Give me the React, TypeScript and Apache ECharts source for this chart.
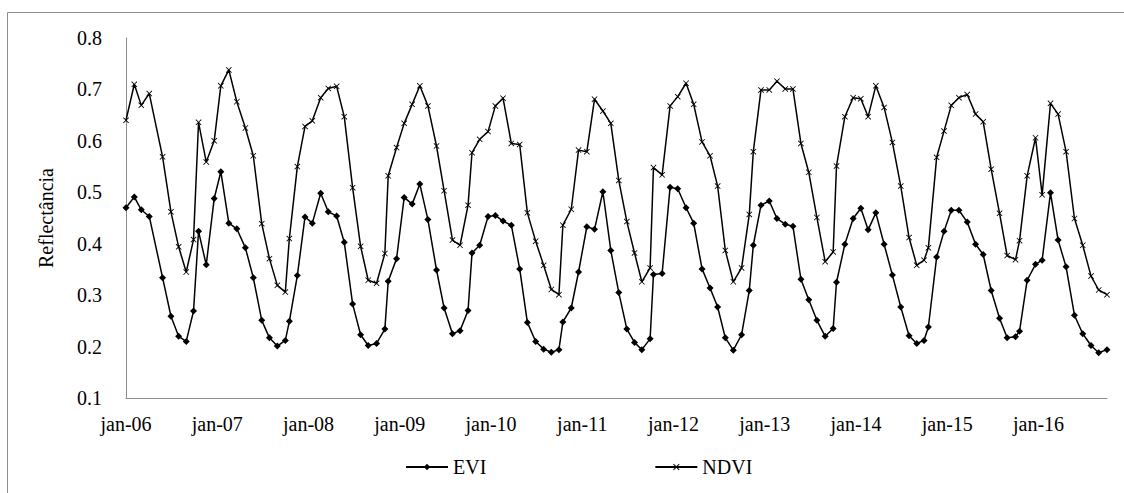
import React, { useEffect, useRef } from "react";
import * as echarts from "echarts";

// x position of each observation, in months since jan-06
const months = [
  0, 1.09, 2.01, 3.06, 4.81, 5.91, 6.92, 7.92, 8.88, 9.54, 10.55, 11.6, 12.47, 13.52, 14.57, 15.7, 16.74,
  17.85, 18.86, 19.9, 20.95, 21.48, 22.53, 23.54, 24.5, 25.6, 26.6, 27.7, 28.7, 29.8, 30.85, 31.85, 32.95, 34.04, 34.48, 35.58, 36.58, 37.63, 38.64, 39.7, 40.83,
  41.83, 42.93, 43.93, 44.98, 45.5, 46.51, 47.61, 48.57, 49.58, 50.67, 51.77, 52.78, 53.87, 54.92, 55.93, 56.93, 57.45, 58.55, 59.51, 60.6, 61.61, 62.71, 63.75, 64.8,
  65.86, 66.87, 67.83, 68.92, 69.36, 70.5, 71.55, 72.55, 73.65, 74.65, 75.75, 76.8, 77.8, 78.81, 79.86, 80.95, 81.96, 82.49, 83.5, 84.59, 85.6, 86.69, 87.7, 88.75, 89.78,
  90.85, 91.94, 92.99, 93.43, 94.53, 95.62, 96.63, 97.59, 98.6, 99.69, 100.78, 101.88, 102.97, 103.98, 104.94, 105.51, 106.6, 107.57, 108.52, 109.53, 110.62, 111.72, 112.72,
  113.77, 114.87, 115.87, 116.97, 117.5, 118.5, 119.6, 120.47, 121.57, 122.57, 123.62, 124.72, 125.81, 126.9, 127.91, 129,
];

const evi = [
  0.47, 0.491, 0.466, 0.453, 0.334, 0.259, 0.22, 0.21, 0.269, 0.424, 0.359, 0.488, 0.54, 0.44, 0.429, 0.392, 0.334,
  0.251, 0.217, 0.201, 0.212, 0.249, 0.338, 0.452, 0.44, 0.498, 0.462, 0.454, 0.403, 0.283, 0.223, 0.202, 0.206, 0.234, 0.327, 0.371, 0.49, 0.477, 0.516, 0.447, 0.349,
  0.275, 0.225, 0.231, 0.27, 0.382, 0.397, 0.453, 0.455, 0.444, 0.436, 0.351, 0.247, 0.21, 0.195, 0.189, 0.194, 0.248, 0.275, 0.345, 0.433, 0.428, 0.501, 0.387, 0.305,
  0.234, 0.208, 0.194, 0.215, 0.34, 0.342, 0.51, 0.507, 0.47, 0.44, 0.351, 0.314, 0.277, 0.217, 0.193, 0.223, 0.309, 0.397, 0.475, 0.483, 0.449, 0.438, 0.434, 0.331, 0.291,
  0.251, 0.22, 0.235, 0.325, 0.399, 0.449, 0.469, 0.427, 0.46, 0.399, 0.339, 0.277, 0.221, 0.206, 0.212, 0.238, 0.374, 0.424, 0.465, 0.465, 0.442, 0.399, 0.379,
  0.309, 0.255, 0.217, 0.219, 0.23, 0.329, 0.36, 0.368, 0.499, 0.407, 0.355, 0.261, 0.225, 0.202, 0.188, 0.194,
];

const ndvi = [
  0.64, 0.71, 0.669, 0.692, 0.569, 0.462, 0.394, 0.345, 0.408, 0.636, 0.559, 0.6, 0.707, 0.738, 0.676, 0.625, 0.571,
  0.439, 0.371, 0.319, 0.306, 0.41, 0.55, 0.628, 0.639, 0.684, 0.702, 0.706, 0.647, 0.509, 0.395, 0.329, 0.323, 0.381, 0.532, 0.587, 0.634, 0.671, 0.707, 0.668, 0.59,
  0.503, 0.407, 0.397, 0.475, 0.577, 0.603, 0.618, 0.668, 0.683, 0.595, 0.593, 0.46, 0.405, 0.358, 0.311, 0.301, 0.436, 0.467, 0.582, 0.579, 0.681, 0.658, 0.634, 0.523,
  0.443, 0.382, 0.326, 0.353, 0.548, 0.534, 0.668, 0.686, 0.712, 0.671, 0.598, 0.571, 0.512, 0.387, 0.326, 0.353, 0.457, 0.579, 0.699, 0.699, 0.716, 0.701, 0.701, 0.595, 0.539,
  0.451, 0.365, 0.384, 0.551, 0.647, 0.684, 0.682, 0.647, 0.707, 0.665, 0.597, 0.512, 0.412, 0.358, 0.368, 0.392, 0.568, 0.619, 0.669, 0.684, 0.69, 0.652, 0.637,
  0.545, 0.459, 0.377, 0.369, 0.406, 0.532, 0.606, 0.495, 0.673, 0.652, 0.579, 0.449, 0.397, 0.337, 0.31, 0.301,
];

const seriesNames = ["EVI", "NDVI"];
const yTicks = [0.1, 0.2, 0.3, 0.4, 0.5, 0.6, 0.7, 0.8];
const yearLabelPrefix = "jan-";
const firstYear = 6;

const FONT = "'Liberation Serif', 'Times New Roman', serif";
const X_SYMBOL = "path://M0,1L1,0L5,4L9,0L10,1L6,5L10,9L9,10L5,6L1,10L0,9L4,5Z";

export default function App() {
  const ref = useRef<HTMLDivElement>(null);

  useEffect(() => {
    if (!ref.current) return;
    const chart = echarts.init(ref.current, undefined, { renderer: "svg" });
    const eviData = months.map((m, i) => [m, evi[i]]);
    const ndviData = months.map((m, i) => [m, ndvi[i]]);
    chart.setOption({
      animation: false,
      backgroundColor: "#ffffff",
      textStyle: { fontFamily: FONT },
      grid: { left: 126, right: 17, top: 38, bottom: 95 },
      graphic: [
        {
          type: "rect",
          shape: { x: 7.5, y: 12.5, width: 1200, height: 600 },
          style: { fill: "none", stroke: "#8c8c8c", lineWidth: 1 },
          silent: true,
        },
      ],
      legend: {
        left: 400,
        top: 452,
        itemWidth: 42,
        itemHeight: 8,
        itemGap: 168,
        textStyle: { fontFamily: FONT, fontSize: 20, color: "#000" },
        data: seriesNames,
      },
      xAxis: {
        type: "value",
        min: 0,
        max: 129,
        interval: 12,
        axisLine: { lineStyle: { color: "#8c8c8c", width: 1 } },
        axisTick: { show: false },
        splitLine: { show: false },
        axisLabel: {
          fontFamily: FONT,
          fontSize: 20,
          color: "#000",
          margin: 16,
          showMaxLabel: false,
          formatter: (v: number) => {
            if (Math.round(v) % 12 !== 0) return "";
            const yr = firstYear + Math.round(v) / 12;
            return yearLabelPrefix + (yr < 10 ? "0" + yr : String(yr));
          },
        },
      },
      yAxis: {
        type: "value",
        min: yTicks[0],
        max: yTicks[yTicks.length - 1],
        interval: 0.1,
        name: "Reflectância",
        nameLocation: "middle",
        nameGap: 70,
        nameTextStyle: { fontFamily: FONT, fontSize: 20, color: "#000" },
        axisLine: { show: true, lineStyle: { color: "#8c8c8c", width: 1 } },
        axisTick: { show: false },
        splitLine: { show: false },
        axisLabel: {
          fontFamily: FONT,
          fontSize: 20,
          color: "#000",
          margin: 24,
          formatter: (v: number) => v.toFixed(1),
        },
      },
      series: [
        {
          name: seriesNames[0],
          type: "line",
          data: eviData,
          symbol: "diamond",
          symbolSize: 7,
          lineStyle: { color: "#000", width: 1.5 },
          itemStyle: { color: "#000" },
        },
        {
          name: seriesNames[1],
          type: "line",
          data: ndviData,
          symbol: X_SYMBOL,
          symbolSize: 6,
          lineStyle: { color: "#000", width: 1.5 },
          itemStyle: { color: "#000" },
        },
      ],
    });
    return () => chart.dispose();
  }, []);

  return (
    <div
      ref={ref}
      style={{ position: "absolute", left: 0, top: 0, width: 1124, height: 493, background: "#fff" }}
    />
  );
}
